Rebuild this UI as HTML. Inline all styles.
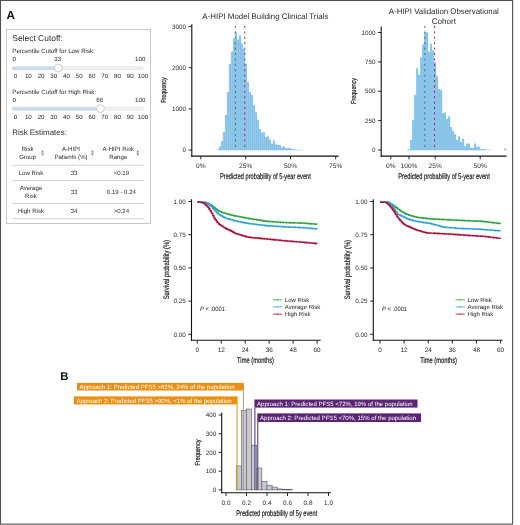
<!DOCTYPE html>
<html><head><meta charset="utf-8"><style>
html,body{margin:0;padding:0;background:#fff;}
body{width:520px;height:525px;overflow:hidden;}
svg{display:block;font-family:"Liberation Sans", sans-serif;text-rendering:geometricPrecision;will-change:transform;}
</style></head><body>
<svg width="520" height="525" viewBox="0 0 520 525">
<rect width="520" height="525" fill="#fff"/>
<rect x="0.5" y="0.5" width="512.1" height="523.6" fill="none" stroke="#505050" stroke-width="1.1"/>
<text x="6.50" y="18.70" font-size="11.7" text-anchor="start" fill="#111" font-weight="bold"  style="">A</text>
<rect x="6.5" y="29.5" width="144" height="194" fill="#fff" stroke="#c8c8c8" stroke-width="1"/>
<text x="12.30" y="40.70" font-size="8.45" text-anchor="start" fill="#2a2a2a" font-weight="normal"  style="">Select Cutoff:</text>
<text x="12.30" y="52.80" font-size="6.15" text-anchor="start" fill="#2a2a2a" font-weight="normal"  style="">Percentile Cutoff for Low Risk:</text>
<text x="12.60" y="61.00" font-size="6.2" text-anchor="start" fill="#2a2a2a" font-weight="normal"  style="">0</text>
<text x="57.64" y="61.00" font-size="6.2" text-anchor="middle" fill="#2a2a2a" font-weight="normal"  style="">33</text>
<text x="145.40" y="61.00" font-size="6.2" text-anchor="end" fill="#2a2a2a" font-weight="normal"  style="">100</text>
<rect x="12" y="66.50" width="131.5" height="3.4" rx="1.7" fill="#f0f0f0" stroke="#e4e4e4" stroke-width="0.5"/>
<rect x="12" y="66.50" width="45.64" height="3.4" rx="1.7" fill="#c9dbec"/>
<circle cx="58.44" cy="68.00" r="3.9" fill="#fff" stroke="#bdbdbd" stroke-width="0.75"/>
<text x="15.60" y="78.30" font-size="6.2" text-anchor="middle" fill="#2a2a2a" font-weight="normal"  style="">0</text>
<text x="28.34" y="78.30" font-size="6.2" text-anchor="middle" fill="#2a2a2a" font-weight="normal"  style="">10</text>
<text x="41.08" y="78.30" font-size="6.2" text-anchor="middle" fill="#2a2a2a" font-weight="normal"  style="">20</text>
<text x="53.82" y="78.30" font-size="6.2" text-anchor="middle" fill="#2a2a2a" font-weight="normal"  style="">30</text>
<text x="66.56" y="78.30" font-size="6.2" text-anchor="middle" fill="#2a2a2a" font-weight="normal"  style="">40</text>
<text x="79.30" y="78.30" font-size="6.2" text-anchor="middle" fill="#2a2a2a" font-weight="normal"  style="">50</text>
<text x="92.04" y="78.30" font-size="6.2" text-anchor="middle" fill="#2a2a2a" font-weight="normal"  style="">60</text>
<text x="104.78" y="78.30" font-size="6.2" text-anchor="middle" fill="#2a2a2a" font-weight="normal"  style="">70</text>
<text x="117.52" y="78.30" font-size="6.2" text-anchor="middle" fill="#2a2a2a" font-weight="normal"  style="">80</text>
<text x="130.26" y="78.30" font-size="6.2" text-anchor="middle" fill="#2a2a2a" font-weight="normal"  style="">90</text>
<text x="143.00" y="78.30" font-size="6.2" text-anchor="middle" fill="#2a2a2a" font-weight="normal"  style="">100</text>
<text x="12.30" y="93.80" font-size="6.15" text-anchor="start" fill="#2a2a2a" font-weight="normal"  style="">Percentile Cutoff for High Risk:</text>
<text x="12.60" y="101.60" font-size="6.2" text-anchor="start" fill="#2a2a2a" font-weight="normal"  style="">0</text>
<text x="99.68" y="101.60" font-size="6.2" text-anchor="middle" fill="#2a2a2a" font-weight="normal"  style="">66</text>
<text x="145.40" y="101.60" font-size="6.2" text-anchor="end" fill="#2a2a2a" font-weight="normal"  style="">100</text>
<rect x="12" y="107.10" width="131.5" height="3.4" rx="1.7" fill="#f0f0f0" stroke="#e4e4e4" stroke-width="0.5"/>
<rect x="12" y="107.10" width="87.68" height="3.4" rx="1.7" fill="#c9dbec"/>
<circle cx="100.48" cy="108.60" r="3.9" fill="#fff" stroke="#bdbdbd" stroke-width="0.75"/>
<text x="15.60" y="118.90" font-size="6.2" text-anchor="middle" fill="#2a2a2a" font-weight="normal"  style="">0</text>
<text x="28.34" y="118.90" font-size="6.2" text-anchor="middle" fill="#2a2a2a" font-weight="normal"  style="">10</text>
<text x="41.08" y="118.90" font-size="6.2" text-anchor="middle" fill="#2a2a2a" font-weight="normal"  style="">20</text>
<text x="53.82" y="118.90" font-size="6.2" text-anchor="middle" fill="#2a2a2a" font-weight="normal"  style="">30</text>
<text x="66.56" y="118.90" font-size="6.2" text-anchor="middle" fill="#2a2a2a" font-weight="normal"  style="">40</text>
<text x="79.30" y="118.90" font-size="6.2" text-anchor="middle" fill="#2a2a2a" font-weight="normal"  style="">50</text>
<text x="92.04" y="118.90" font-size="6.2" text-anchor="middle" fill="#2a2a2a" font-weight="normal"  style="">60</text>
<text x="104.78" y="118.90" font-size="6.2" text-anchor="middle" fill="#2a2a2a" font-weight="normal"  style="">70</text>
<text x="117.52" y="118.90" font-size="6.2" text-anchor="middle" fill="#2a2a2a" font-weight="normal"  style="">80</text>
<text x="130.26" y="118.90" font-size="6.2" text-anchor="middle" fill="#2a2a2a" font-weight="normal"  style="">90</text>
<text x="143.00" y="118.90" font-size="6.2" text-anchor="middle" fill="#2a2a2a" font-weight="normal"  style="">100</text>
<text x="12.20" y="135.20" font-size="7.95" text-anchor="start" fill="#2a2a2a" font-weight="normal"  style="">Risk Estimates:</text>
<text x="27.60" y="150.60" font-size="6.1" text-anchor="middle" fill="#2a2a2a" font-weight="normal"  style="">Risk</text>
<text x="27.60" y="159.20" font-size="6.1" text-anchor="middle" fill="#2a2a2a" font-weight="normal"  style="">Group</text>
<text x="71.00" y="150.60" font-size="6.1" text-anchor="middle" fill="#2a2a2a" font-weight="normal"  style="">A-HIPI</text>
<text x="71.00" y="159.20" font-size="6.1" text-anchor="middle" fill="#2a2a2a" font-weight="normal"  style="">Patients (%)</text>
<text x="118.30" y="150.60" font-size="6.1" text-anchor="middle" fill="#2a2a2a" font-weight="normal"  style="">A-HIPI Risk</text>
<text x="118.30" y="159.20" font-size="6.1" text-anchor="middle" fill="#2a2a2a" font-weight="normal"  style="">Range</text>
<path d="M41.20,152.50 L42.60,149.90 L44.00,152.50 Z M41.20,153.50 L42.60,156.10 L44.00,153.50 Z" fill="#8a8a8a"/>
<path d="M91.00,152.50 L92.40,149.90 L93.80,152.50 Z M91.00,153.50 L92.40,156.10 L93.80,153.50 Z" fill="#8a8a8a"/>
<path d="M136.30,152.50 L137.70,149.90 L139.10,152.50 Z M136.30,153.50 L137.70,156.10 L139.10,153.50 Z" fill="#8a8a8a"/>
<line x1="11.90" y1="165.30" x2="144.00" y2="165.30" stroke="#cfcfcf" stroke-width="0.9" />
<line x1="11.90" y1="180.60" x2="144.00" y2="180.60" stroke="#cfcfcf" stroke-width="0.9" />
<line x1="11.90" y1="203.40" x2="144.00" y2="203.40" stroke="#cfcfcf" stroke-width="0.9" />
<line x1="11.90" y1="218.70" x2="144.00" y2="218.70" stroke="#cfcfcf" stroke-width="0.9" />
<text x="31.00" y="175.00" font-size="6.1" text-anchor="middle" fill="#2a2a2a" font-weight="normal"  style="">Low Risk</text>
<text x="74.10" y="175.00" font-size="6.1" text-anchor="middle" fill="#2a2a2a" font-weight="normal"  style="">33</text>
<text x="121.40" y="175.00" font-size="6.1" text-anchor="middle" fill="#2a2a2a" font-weight="normal"  style="">&lt;0.19</text>
<text x="31.00" y="190.20" font-size="6.1" text-anchor="middle" fill="#2a2a2a" font-weight="normal"  style="">Average</text>
<text x="31.00" y="197.80" font-size="6.1" text-anchor="middle" fill="#2a2a2a" font-weight="normal"  style="">Risk</text>
<text x="74.10" y="194.00" font-size="6.1" text-anchor="middle" fill="#2a2a2a" font-weight="normal"  style="">33</text>
<text x="121.40" y="194.00" font-size="6.1" text-anchor="middle" fill="#2a2a2a" font-weight="normal"  style="">0.19 - 0.24</text>
<text x="31.00" y="212.90" font-size="6.1" text-anchor="middle" fill="#2a2a2a" font-weight="normal"  style="">High Risk</text>
<text x="74.10" y="212.90" font-size="6.1" text-anchor="middle" fill="#2a2a2a" font-weight="normal"  style="">34</text>
<text x="121.40" y="212.90" font-size="6.1" text-anchor="middle" fill="#2a2a2a" font-weight="normal"  style="">&gt;0.24</text>
<path d="M216.80,150.3 V149.30 H218.80 V150.3 Z M218.80,150.3 V146.50 H220.80 V150.3 Z M220.80,150.3 V141.00 H222.80 V150.3 Z M222.80,150.3 V132.00 H224.80 V150.3 Z M224.80,150.3 V115.00 H226.80 V150.3 Z M226.80,150.3 V92.00 H228.80 V150.3 Z M228.80,150.3 V64.00 H230.80 V150.3 Z M230.80,150.3 V51.60 H232.80 V150.3 Z M232.80,150.3 V38.60 H234.80 V150.3 Z M234.80,150.3 V31.80 H236.80 V150.3 Z M236.80,150.3 V39.60 H238.80 V150.3 Z M238.80,150.3 V35.50 H240.80 V150.3 Z M240.80,150.3 V43.60 H242.80 V150.3 Z M242.80,150.3 V49.10 H244.80 V150.3 Z M244.80,150.3 V63.40 H246.80 V150.3 Z M246.80,150.3 V82.00 H248.80 V150.3 Z M248.80,150.3 V91.70 H250.80 V150.3 Z M250.80,150.3 V95.00 H252.80 V150.3 Z M252.80,150.3 V105.00 H254.80 V150.3 Z M254.80,150.3 V111.70 H256.80 V150.3 Z M256.80,150.3 V119.70 H258.80 V150.3 Z M258.80,150.3 V129.00 H260.80 V150.3 Z M260.80,150.3 V132.30 H262.80 V150.3 Z M262.80,150.3 V132.30 H264.80 V150.3 Z M264.80,150.3 V137.00 H266.80 V150.3 Z M266.80,150.3 V136.30 H268.80 V150.3 Z M268.80,150.3 V139.70 H270.80 V150.3 Z M270.80,150.3 V143.80 H272.80 V150.3 Z M272.80,150.3 V140.20 H274.80 V150.3 Z M274.80,150.3 V144.30 H276.80 V150.3 Z M276.80,150.3 V144.80 H278.80 V150.3 Z M278.80,150.3 V144.80 H280.80 V150.3 Z M280.80,150.3 V147.20 H282.80 V150.3 Z M282.80,150.3 V146.25 H284.80 V150.3 Z M284.80,150.3 V148.20 H286.80 V150.3 Z M286.80,150.3 V148.20 H288.80 V150.3 Z M288.80,150.3 V147.70 H290.80 V150.3 Z M290.80,150.3 V149.10 H292.80 V150.3 Z M292.80,150.3 V149.10 H294.80 V150.3 Z M294.80,150.3 V149.50 H296.80 V150.3 Z M296.80,150.3 V149.80 H298.80 V150.3 Z M298.80,150.3 V149.80 H300.80 V150.3 Z M300.80,150.3 V149.80 H302.80 V150.3 Z" fill="#8ecbef" />
<path d="M220.55,150.3 V147.10 M222.55,150.3 V141.60 M224.55,150.3 V132.60 M226.55,150.3 V115.60 M228.55,150.3 V92.60 M230.55,150.3 V64.60 M232.55,150.3 V52.20 M234.55,150.3 V39.20 M236.55,150.3 V32.40 M238.55,150.3 V40.20 M240.55,150.3 V36.10 M242.55,150.3 V44.20 M244.55,150.3 V49.70 M246.55,150.3 V64.00 M248.55,150.3 V82.60 M250.55,150.3 V92.30 M252.55,150.3 V95.60 M254.55,150.3 V105.60 M256.55,150.3 V112.30 M258.55,150.3 V120.30 M260.55,150.3 V129.60 M262.55,150.3 V132.90 M264.55,150.3 V132.90 M266.55,150.3 V137.60 M268.55,150.3 V136.90 M270.55,150.3 V140.30 M272.55,150.3 V144.40 M274.55,150.3 V140.80 M276.55,150.3 V144.90 M278.55,150.3 V145.40 M280.55,150.3 V145.40 M282.55,150.3 V147.80 M284.55,150.3 V146.85 M286.55,150.3 V148.80 M288.55,150.3 V148.80 M290.55,150.3 V148.30" stroke="#7db3d6" stroke-width="0.5" fill="none"/>
<line x1="235.4" y1="26" x2="235.4" y2="150" stroke="#467070" stroke-width="1" stroke-dasharray="2,3.4"/>
<line x1="244.8" y1="26" x2="244.8" y2="150" stroke="#8a2a5c" stroke-width="1" stroke-dasharray="2,3.4"/>
<line x1="191.80" y1="24.30" x2="191.80" y2="156.80" stroke="#111" stroke-width="1.1" />
<line x1="191.30" y1="156.10" x2="338.60" y2="156.10" stroke="#111" stroke-width="1.1" />
<line x1="188.60" y1="150.10" x2="191.80" y2="150.10" stroke="#111" stroke-width="0.9" />
<text x="186.00" y="152.30" font-size="6.3" text-anchor="end" fill="#2a2a2a" font-weight="normal"  style="">0</text>
<line x1="188.60" y1="108.93" x2="191.80" y2="108.93" stroke="#111" stroke-width="0.9" />
<text x="186.00" y="111.13" font-size="6.3" text-anchor="end" fill="#2a2a2a" font-weight="normal"  style="">1000</text>
<line x1="188.60" y1="67.76" x2="191.80" y2="67.76" stroke="#111" stroke-width="0.9" />
<text x="186.00" y="69.96" font-size="6.3" text-anchor="end" fill="#2a2a2a" font-weight="normal"  style="">2000</text>
<line x1="188.60" y1="26.59" x2="191.80" y2="26.59" stroke="#111" stroke-width="0.9" />
<text x="186.00" y="28.79" font-size="6.3" text-anchor="end" fill="#2a2a2a" font-weight="normal"  style="">3000</text>
<line x1="200.80" y1="156.10" x2="200.80" y2="159.40" stroke="#111" stroke-width="0.9" />
<text x="200.80" y="167.50" font-size="6.6" text-anchor="middle" fill="#2a2a2a" font-weight="normal"  style="">0%</text>
<line x1="245.70" y1="156.10" x2="245.70" y2="159.40" stroke="#111" stroke-width="0.9" />
<text x="245.70" y="167.50" font-size="6.6" text-anchor="middle" fill="#2a2a2a" font-weight="normal"  style="">25%</text>
<line x1="290.50" y1="156.10" x2="290.50" y2="159.40" stroke="#111" stroke-width="0.9" />
<text x="290.50" y="167.50" font-size="6.6" text-anchor="middle" fill="#2a2a2a" font-weight="normal"  style="">50%</text>
<line x1="335.70" y1="156.10" x2="335.70" y2="159.40" stroke="#111" stroke-width="0.9" />
<text x="335.70" y="167.50" font-size="6.6" text-anchor="middle" fill="#2a2a2a" font-weight="normal"  style="">75%</text>
<text x="265.40" y="178.70" font-size="8.2" text-anchor="middle" fill="#222" font-weight="normal" textLength="90.8" lengthAdjust="spacingAndGlyphs"  style="stroke:#222;stroke-width:0.22">Predicted probability of 5-year event</text>
<text x="0" y="0" font-size="7.3" text-anchor="middle" fill="#222" textLength="25.5" lengthAdjust="spacingAndGlyphs" transform="translate(163.70,90.00) rotate(-90)" dominant-baseline="central" style="stroke:#222;stroke-width:0.2">Frequency</text>
<text x="265.35" y="18.90" font-size="8.1" text-anchor="middle" fill="#2a2a2a" font-weight="normal" textLength="126" lengthAdjust="spacingAndGlyphs"  style="">A-HIPI Model Building Clinical Trials</text>
<path d="M406.00,150.3 V149.70 H408.00 V150.3 Z M408.00,150.3 V149.00 H410.00 V150.3 Z M410.00,150.3 V140.00 H412.00 V150.3 Z M412.00,150.3 V120.00 H414.00 V150.3 Z M414.00,150.3 V95.00 H416.00 V150.3 Z M416.00,150.3 V68.30 H418.00 V150.3 Z M418.00,150.3 V74.50 H420.00 V150.3 Z M420.00,150.3 V57.20 H422.00 V150.3 Z M422.00,150.3 V44.20 H424.00 V150.3 Z M424.00,150.3 V32.20 H426.00 V150.3 Z M426.00,150.3 V32.20 H428.00 V150.3 Z M428.00,150.3 V51.60 H430.00 V150.3 Z M430.00,150.3 V43.60 H432.00 V150.3 Z M432.00,150.3 V50.40 H434.00 V150.3 Z M434.00,150.3 V62.10 H436.00 V150.3 Z M436.00,150.3 V76.00 H438.00 V150.3 Z M438.00,150.3 V89.00 H440.00 V150.3 Z M440.00,150.3 V89.70 H442.00 V150.3 Z M442.00,150.3 V113.00 H444.00 V150.3 Z M444.00,150.3 V112.30 H446.00 V150.3 Z M446.00,150.3 V119.00 H448.00 V150.3 Z M448.00,150.3 V116.30 H450.00 V150.3 Z M450.00,150.3 V127.00 H452.00 V150.3 Z M452.00,150.3 V131.00 H454.00 V150.3 Z M454.00,150.3 V134.30 H456.00 V150.3 Z M456.00,150.3 V139.90 H458.00 V150.3 Z M458.00,150.3 V136.20 H460.00 V150.3 Z M460.00,150.3 V142.00 H462.00 V150.3 Z M462.00,150.3 V138.80 H464.00 V150.3 Z M464.00,150.3 V146.20 H466.00 V150.3 Z M466.00,150.3 V143.40 H468.00 V150.3 Z M468.00,150.3 V143.40 H470.00 V150.3 Z M470.00,150.3 V147.80 H472.00 V150.3 Z M472.00,150.3 V147.80 H474.00 V150.3 Z M474.00,150.3 V143.40 H476.00 V150.3 Z M476.00,150.3 V146.70 H478.00 V150.3 Z M478.00,150.3 V146.70 H480.00 V150.3 Z M480.00,150.3 V149.10 H482.00 V150.3 Z M482.00,150.3 V149.10 H484.00 V150.3 Z M484.00,150.3 V149.10 H486.00 V150.3 Z M486.00,150.3 V149.80 H488.00 V150.3 Z M488.00,150.3 V149.80 H490.00 V150.3 Z M490.00,150.3 V149.80 H492.00 V150.3 Z" fill="#8ecbef" />
<path d="M411.75,150.3 V140.60 M413.75,150.3 V120.60 M415.75,150.3 V95.60 M417.75,150.3 V68.90 M419.75,150.3 V75.10 M421.75,150.3 V57.80 M423.75,150.3 V44.80 M425.75,150.3 V32.80 M427.75,150.3 V32.80 M429.75,150.3 V52.20 M431.75,150.3 V44.20 M433.75,150.3 V51.00 M435.75,150.3 V62.70 M437.75,150.3 V76.60 M439.75,150.3 V89.60 M441.75,150.3 V90.30 M443.75,150.3 V113.60 M445.75,150.3 V112.90 M447.75,150.3 V119.60 M449.75,150.3 V116.90 M451.75,150.3 V127.60 M453.75,150.3 V131.60 M455.75,150.3 V134.90 M457.75,150.3 V140.50 M459.75,150.3 V136.80 M461.75,150.3 V142.60 M463.75,150.3 V139.40 M465.75,150.3 V146.80 M467.75,150.3 V144.00 M469.75,150.3 V144.00 M471.75,150.3 V148.40 M473.75,150.3 V148.40 M475.75,150.3 V144.00 M477.75,150.3 V147.30 M479.75,150.3 V147.30" stroke="#7db3d6" stroke-width="0.5" fill="none"/>
<rect x="504.2" y="148.6" width="2.4" height="1.7" fill="#9ab8cc"/>
<line x1="424.8" y1="26" x2="424.8" y2="150" stroke="#467070" stroke-width="1" stroke-dasharray="2,3.4"/>
<line x1="434.6" y1="26" x2="434.6" y2="150" stroke="#8a2a5c" stroke-width="1" stroke-dasharray="2,3.4"/>
<line x1="381.20" y1="26.50" x2="381.20" y2="156.70" stroke="#111" stroke-width="1.1" />
<line x1="380.70" y1="156.10" x2="506.50" y2="156.10" stroke="#111" stroke-width="1.1" />
<line x1="378.00" y1="150.00" x2="381.20" y2="150.00" stroke="#111" stroke-width="0.9" />
<text x="375.60" y="152.20" font-size="6.3" text-anchor="end" fill="#2a2a2a" font-weight="normal"  style="">0</text>
<line x1="378.00" y1="120.62" x2="381.20" y2="120.62" stroke="#111" stroke-width="0.9" />
<text x="375.60" y="122.83" font-size="6.3" text-anchor="end" fill="#2a2a2a" font-weight="normal"  style="">250</text>
<line x1="378.00" y1="91.25" x2="381.20" y2="91.25" stroke="#111" stroke-width="0.9" />
<text x="375.60" y="93.45" font-size="6.3" text-anchor="end" fill="#2a2a2a" font-weight="normal"  style="">500</text>
<line x1="378.00" y1="61.88" x2="381.20" y2="61.88" stroke="#111" stroke-width="0.9" />
<text x="375.60" y="64.08" font-size="6.3" text-anchor="end" fill="#2a2a2a" font-weight="normal"  style="">750</text>
<line x1="378.00" y1="32.50" x2="381.20" y2="32.50" stroke="#111" stroke-width="0.9" />
<text x="375.60" y="34.70" font-size="6.3" text-anchor="end" fill="#2a2a2a" font-weight="normal"  style="">1000</text>
<line x1="390.80" y1="156.10" x2="390.80" y2="159.40" stroke="#111" stroke-width="0.9" />
<text x="390.80" y="167.50" font-size="6.6" text-anchor="middle" fill="#2a2a2a" font-weight="normal"  style="">0%</text>
<line x1="409.00" y1="156.10" x2="409.00" y2="159.40" stroke="#111" stroke-width="0.9" />
<text x="409.00" y="167.50" font-size="6.6" text-anchor="middle" fill="#2a2a2a" font-weight="normal"  style="">100%</text>
<line x1="435.20" y1="156.10" x2="435.20" y2="159.40" stroke="#111" stroke-width="0.9" />
<text x="435.20" y="167.50" font-size="6.6" text-anchor="middle" fill="#2a2a2a" font-weight="normal"  style="">25%</text>
<line x1="480.20" y1="156.10" x2="480.20" y2="159.40" stroke="#111" stroke-width="0.9" />
<text x="480.20" y="167.50" font-size="6.6" text-anchor="middle" fill="#2a2a2a" font-weight="normal"  style="">50%</text>
<text x="444.10" y="178.80" font-size="8.2" text-anchor="middle" fill="#222" font-weight="normal" textLength="91.6" lengthAdjust="spacingAndGlyphs"  style="stroke:#222;stroke-width:0.22">Predicted probability of 5-year event</text>
<text x="0" y="0" font-size="7.3" text-anchor="middle" fill="#222" textLength="25.9" lengthAdjust="spacingAndGlyphs" transform="translate(353.70,91.00) rotate(-90)" dominant-baseline="central" style="stroke:#222;stroke-width:0.2">Frequency</text>
<text x="443.85" y="13.80" font-size="8.1" text-anchor="middle" fill="#2a2a2a" font-weight="normal" textLength="110" lengthAdjust="spacingAndGlyphs"  style="">A-HIPI Validation Observational</text>
<text x="443.85" y="23.50" font-size="8.1" text-anchor="middle" fill="#2a2a2a" font-weight="normal" textLength="24.4" lengthAdjust="spacingAndGlyphs"  style="">Cohort</text>
<line x1="191.50" y1="199.20" x2="191.50" y2="340.80" stroke="#111" stroke-width="1.1" />
<line x1="191.00" y1="340.30" x2="320.60" y2="340.30" stroke="#111" stroke-width="1.1" />
<line x1="188.30" y1="201.50" x2="191.50" y2="201.50" stroke="#111" stroke-width="0.9" />
<text x="185.70" y="203.70" font-size="6.3" text-anchor="end" fill="#2a2a2a" font-weight="normal"  style="">1.00</text>
<line x1="188.30" y1="234.70" x2="191.50" y2="234.70" stroke="#111" stroke-width="0.9" />
<text x="185.70" y="236.90" font-size="6.3" text-anchor="end" fill="#2a2a2a" font-weight="normal"  style="">0.75</text>
<line x1="188.30" y1="267.90" x2="191.50" y2="267.90" stroke="#111" stroke-width="0.9" />
<text x="185.70" y="270.10" font-size="6.3" text-anchor="end" fill="#2a2a2a" font-weight="normal"  style="">0.50</text>
<line x1="188.30" y1="301.10" x2="191.50" y2="301.10" stroke="#111" stroke-width="0.9" />
<text x="185.70" y="303.30" font-size="6.3" text-anchor="end" fill="#2a2a2a" font-weight="normal"  style="">0.25</text>
<line x1="188.30" y1="334.30" x2="191.50" y2="334.30" stroke="#111" stroke-width="0.9" />
<text x="185.70" y="336.50" font-size="6.3" text-anchor="end" fill="#2a2a2a" font-weight="normal"  style="">0.00</text>
<line x1="197.30" y1="340.30" x2="197.30" y2="343.60" stroke="#111" stroke-width="0.9" />
<text x="197.30" y="351.60" font-size="6.4" text-anchor="middle" fill="#2a2a2a" font-weight="normal"  style="">0</text>
<line x1="221.26" y1="340.30" x2="221.26" y2="343.60" stroke="#111" stroke-width="0.9" />
<text x="221.26" y="351.60" font-size="6.4" text-anchor="middle" fill="#2a2a2a" font-weight="normal"  style="">12</text>
<line x1="245.22" y1="340.30" x2="245.22" y2="343.60" stroke="#111" stroke-width="0.9" />
<text x="245.22" y="351.60" font-size="6.4" text-anchor="middle" fill="#2a2a2a" font-weight="normal"  style="">24</text>
<line x1="269.18" y1="340.30" x2="269.18" y2="343.60" stroke="#111" stroke-width="0.9" />
<text x="269.18" y="351.60" font-size="6.4" text-anchor="middle" fill="#2a2a2a" font-weight="normal"  style="">36</text>
<line x1="293.14" y1="340.30" x2="293.14" y2="343.60" stroke="#111" stroke-width="0.9" />
<text x="293.14" y="351.60" font-size="6.4" text-anchor="middle" fill="#2a2a2a" font-weight="normal"  style="">48</text>
<line x1="317.10" y1="340.30" x2="317.10" y2="343.60" stroke="#111" stroke-width="0.9" />
<text x="317.10" y="351.60" font-size="6.4" text-anchor="middle" fill="#2a2a2a" font-weight="normal"  style="">60</text>
<text x="255.50" y="362.90" font-size="8.2" text-anchor="middle" fill="#222" font-weight="normal" textLength="36.9" lengthAdjust="spacingAndGlyphs"  style="stroke:#222;stroke-width:0.22">Time (months)</text>
<text x="0" y="0" font-size="7.9" text-anchor="middle" fill="#222" textLength="59.3" lengthAdjust="spacingAndGlyphs" transform="translate(166.50,269.60) rotate(-90)" dominant-baseline="central" style="stroke:#222;stroke-width:0.2">Survival probability (%)</text>
<path d="M197.30,201.70H198.11 V201.74H199.01 V201.80H200.24 V201.86H201.06 V201.91H201.92 V201.96H202.85 V202.03H203.41 V202.15H204.27 V202.33H205.24 V202.54H206.36 V202.77H206.84 V202.97H207.51 V203.29H207.99 V203.53H209.12 V204.08H210.15 V204.58H210.58 V204.85H211.87 V205.90H213.14 V206.93H214.13 V207.74H215.08 V208.43H215.62 V208.81H216.03 V209.10H216.91 V209.73H217.36 V210.05H217.94 V210.45H218.55 V210.77H218.98 V210.98H219.80 V211.38H220.59 V211.76H221.75 V212.33H222.62 V212.60H223.60 V212.88H224.45 V213.12H225.44 V213.40H226.25 V213.64H226.90 V213.84H228.20 V214.23H229.50 V214.63H230.65 V214.96H231.69 V215.18H232.37 V215.33H232.98 V215.46H233.64 V215.60H234.10 V215.71H235.19 V215.94H235.95 V216.08H237.12 V216.30H237.86 V216.44H239.13 V216.68H240.29 V216.89H240.69 V216.97H241.28 V217.08H242.50 V217.31H243.32 V217.46H244.60 V217.71H245.36 V217.85H245.83 V217.94H246.79 V218.12H247.89 V218.32H248.54 V218.44H249.01 V218.51H249.71 V218.62H250.98 V218.83H252.06 V219.00H252.57 V219.08H253.19 V219.18H253.68 V219.25H254.14 V219.32H255.25 V219.50H255.81 V219.59H256.72 V219.73H257.52 V219.86H258.09 V219.95H259.15 V220.12H259.67 V220.20H260.65 V220.36H261.15 V220.44H261.93 V220.56H262.52 V220.65H263.17 V220.76H264.44 V220.96H265.56 V221.14H266.24 V221.24H267.43 V221.36H268.02 V221.40H268.78 V221.46H269.95 V221.54H270.92 V221.61H271.41 V221.64H272.70 V221.74H273.30 V221.78H273.93 V221.82H275.02 V221.90H275.72 V221.95H276.39 V222.00H276.85 V222.03H277.33 V222.07H278.26 V222.13H278.88 V222.18H279.82 V222.24H280.55 V222.30H281.36 V222.35H282.62 V222.44H283.46 V222.50H284.38 V222.57H285.56 V222.62H286.12 V222.64H286.66 V222.65H287.88 V222.68H289.01 V222.72H289.64 V222.73H290.21 V222.75H291.27 V222.78H292.52 V222.81H293.10 V222.83H294.35 V222.86H295.55 V222.90H296.49 V222.92H297.27 V222.94H297.76 V222.96H298.20 V222.97H299.46 V223.00H300.08 V223.02H301.11 V223.05H301.74 V223.07H302.89 V223.10H303.82 V223.17H304.49 V223.22H305.04 V223.27H306.09 V223.36H306.55 V223.40H307.16 V223.45H308.06 V223.52H309.23 V223.62H310.18 V223.70H310.84 V223.76H312.06 V223.86H312.64 V223.91H313.06 V223.94H313.70 V224.00H314.50 V224.07H314.96 V224.10H315.52 V224.15H316.25 V224.21H317.10 V224.28" fill="none" stroke="#35a043" stroke-width="1.35"/>
<path d="M205.30,201.40 V203.70 M208.34,202.55 V204.85 M210.29,203.50 V205.80 M212.04,204.89 V207.19 M215.13,207.31 V209.61 M216.60,208.35 V210.65 M218.89,209.78 V212.08 M221.38,210.99 V213.29 M223.98,211.84 V214.14 M225.52,212.27 V214.57 M228.17,213.07 V215.37 M230.52,213.78 V216.08 M233.68,214.46 V216.76 M234.94,214.74 V217.04 M238.34,215.38 V217.68 M239.94,215.68 V217.98 M243.01,216.26 V218.56 M245.38,216.70 V219.00 M248.50,217.28 V219.58 M250.12,217.54 V219.84 M252.06,217.85 V220.15 M253.46,218.07 V220.37 M256.45,218.54 V220.84 M258.88,218.93 V221.23 M260.55,219.19 V221.49 M262.19,219.45 V221.75 M263.58,219.67 V221.97 M265.24,219.93 V222.23 M267.73,220.23 V222.53 M269.93,220.39 V222.69 M272.75,220.59 V222.89 M274.13,220.69 V222.99 M277.26,220.91 V223.21 M280.72,221.16 V223.46 M283.62,221.37 V223.67 M286.53,221.50 V223.80 M289.68,221.58 V223.88 M291.10,221.62 V223.92 M293.36,221.69 V223.99 M294.74,221.72 V224.02 M297.74,221.81 V224.11 M300.18,221.87 V224.17 M301.62,221.91 V224.21 M303.85,222.02 V224.32 M306.83,222.27 V224.57 M309.30,222.48 V224.78 M310.78,222.60 V224.90 M314.14,222.88 V225.18 M315.47,223.00 V225.30" stroke="#35a043" stroke-width="0.6" fill="none"/>
<path d="M197.30,201.70H198.13 V201.80H199.12 V201.92H200.12 V202.04H200.65 V202.10H201.06 V202.15H201.79 V202.24H202.44 V202.31H203.57 V202.45H204.59 V202.57H205.53 V202.68H206.44 V202.79H207.43 V203.52H207.96 V203.92H208.76 V204.54H209.30 V204.96H210.52 V205.93H210.97 V206.43H212.11 V207.69H212.58 V208.20H213.59 V209.33H214.30 V210.10H215.06 V210.88H216.22 V212.07H216.64 V212.50H217.09 V212.97H218.31 V214.09H219.17 V214.59H219.65 V214.88H220.94 V215.64H222.19 V216.35H222.70 V216.61H223.48 V217.01H224.00 V217.28H224.68 V217.63H225.64 V218.12H226.19 V218.31H227.21 V218.60H227.66 V218.73H228.21 V218.88H229.35 V219.20H230.11 V219.42H230.89 V219.65H231.82 V219.93H232.65 V220.19H233.40 V220.41H233.82 V220.54H234.88 V220.86H236.15 V221.12H237.43 V221.37H238.42 V221.57H239.15 V221.71H239.87 V221.85H240.89 V222.05H241.90 V222.25H242.40 V222.35H243.01 V222.47H243.74 V222.61H244.60 V222.78H245.73 V223.00H246.58 V223.16H247.01 V223.25H248.15 V223.47H248.93 V223.58H249.80 V223.68H250.40 V223.75H251.18 V223.85H251.93 V223.94H253.03 V224.07H253.52 V224.13H254.42 V224.24H254.98 V224.30H256.00 V224.43H256.44 V224.48H257.08 V224.56H257.79 V224.64H258.77 V224.76H259.21 V224.81H260.03 V224.91H260.62 V224.98H261.27 V225.06H262.10 V225.16H263.36 V225.31H264.19 V225.41H265.45 V225.56H266.00 V225.63H267.24 V225.74H267.96 V225.78H268.53 V225.82H269.61 V225.88H270.83 V225.96H271.24 V225.98H271.88 V226.02H272.97 V226.09H273.68 V226.13H274.30 V226.17H274.70 V226.19H275.14 V226.22H276.10 V226.27H277.38 V226.35H278.68 V226.43H279.53 V226.48H279.96 V226.51H280.65 V226.55H281.75 V226.62H282.90 V226.69H283.88 V226.74H284.48 V226.78H285.36 V226.83H286.19 V226.87H287.15 V226.92H287.79 V226.95H289.04 V227.01H290.25 V227.07H290.79 V227.10H291.45 V227.13H292.64 V227.19H293.29 V227.22H294.54 V227.28H295.40 V227.32H296.43 V227.38H297.46 V227.43H298.06 V227.46H298.71 V227.49H299.34 V227.52H300.36 V227.57H301.38 V227.62H301.90 V227.65H303.10 V227.71H303.88 V227.78H304.49 V227.84H305.29 V227.91H306.57 V228.02H307.47 V228.11H308.43 V228.19H309.66 V228.31H310.93 V228.42H312.01 V228.52H312.79 V228.59H313.72 V228.67H314.93 V228.78H316.04 V228.89H316.96 V228.97H317.10 V228.98" fill="none" stroke="#2ea2d8" stroke-width="1.35"/>
<path d="M205.30,201.51 V203.81 M208.37,203.09 V205.39 M209.79,204.18 V206.48 M213.12,207.66 V209.96 M216.00,210.70 V213.00 M217.79,212.54 V214.84 M219.98,213.91 V216.21 M221.25,214.67 V216.97 M222.79,215.51 V217.81 M225.49,216.89 V219.19 M228.47,217.80 V220.10 M230.10,218.27 V220.57 M232.90,219.11 V221.41 M234.97,219.74 V222.04 M237.43,220.23 V222.53 M240.55,220.83 V223.13 M242.29,221.18 V223.48 M243.89,221.49 V223.79 M246.07,221.91 V224.21 M249.52,222.50 V224.80 M251.65,222.75 V225.05 M254.79,223.13 V225.43 M256.39,223.32 V225.62 M259.32,223.68 V225.98 M262.50,224.06 V226.36 M264.54,224.30 V226.60 M266.21,224.50 V226.80 M267.64,224.61 V226.91 M269.18,224.71 V227.01 M271.05,224.82 V227.12 M273.62,224.97 V227.27 M276.83,225.17 V227.47 M278.62,225.28 V227.58 M281.96,225.48 V227.78 M283.55,225.57 V227.87 M285.90,225.70 V228.00 M288.81,225.85 V228.15 M292.08,226.01 V228.31 M295.38,226.17 V228.47 M298.78,226.34 V228.64 M300.17,226.41 V228.71 M303.36,226.58 V228.88 M304.56,226.69 V228.99 M306.82,226.90 V229.20 M308.85,227.08 V229.38 M311.05,227.28 V229.58 M312.45,227.41 V229.71 M314.59,227.60 V229.90" stroke="#2ea2d8" stroke-width="0.6" fill="none"/>
<path d="M197.30,202.00H197.93 V202.09H198.95 V202.24H199.97 V202.39H201.13 V202.57H201.70 V202.65H202.30 V202.74H202.84 V202.90H203.44 V203.33H204.50 V204.08H205.02 V204.45H205.90 V205.07H206.49 V205.49H207.15 V206.39H207.94 V207.46H209.10 V209.03H210.04 V210.32H210.46 V210.91H211.10 V212.23H211.64 V213.31H212.82 V215.71H213.95 V217.99H215.07 V219.65H216.22 V221.16H217.29 V222.56H218.54 V223.88H219.66 V224.65H220.29 V225.08H221.45 V225.89H222.29 V226.43H223.37 V227.07H224.28 V227.60H225.07 V228.07H225.79 V228.50H226.58 V228.87H227.26 V229.20H227.77 V229.44H228.91 V229.99H230.02 V230.52H231.31 V231.20H232.33 V231.76H233.23 V232.25H234.31 V232.84H234.83 V233.13H235.84 V233.60H236.64 V233.83H237.19 V233.99H237.78 V234.16H238.65 V234.41H239.27 V234.59H240.09 V234.83H241.03 V235.10H241.79 V235.32H242.31 V235.47H243.15 V235.71H243.76 V235.89H244.37 V236.06H244.95 V236.23H245.68 V236.44H246.14 V236.58H247.13 V236.86H248.39 V237.21H249.14 V237.28H250.19 V237.39H251.43 V237.51H251.86 V237.55H252.39 V237.60H253.52 V237.71H254.67 V237.83H255.65 V237.92H256.19 V237.98H256.96 V238.05H258.14 V238.17H259.34 V238.29H260.46 V238.40H261.05 V238.45H262.22 V238.57H262.95 V238.64H264.00 V238.74H264.52 V238.80H265.80 V238.92H266.74 V239.01H267.79 V239.12H268.38 V239.18H269.34 V239.27H270.26 V239.36H271.19 V239.45H271.91 V239.53H272.97 V239.63H273.68 V239.70H274.34 V239.77H274.89 V239.82H275.91 V239.92H276.41 V239.97H277.01 V240.03H277.47 V240.08H278.45 V240.17H279.35 V240.26H280.24 V240.35H280.67 V240.39H281.47 V240.47H282.18 V240.54H282.66 V240.59H283.07 V240.63H284.36 V240.76H284.87 V240.81H285.54 V240.86H286.19 V240.91H287.12 V240.99H287.59 V241.03H288.42 V241.10H289.15 V241.16H290.30 V241.25H290.70 V241.29H291.40 V241.34H292.25 V241.41H293.52 V241.52H294.39 V241.59H295.22 V241.66H296.22 V241.74H296.88 V241.80H297.31 V241.83H298.16 V241.90H299.38 V242.00H300.45 V242.09H301.08 V242.14H302.10 V242.23H303.26 V242.32H303.89 V242.38H304.82 V242.47H305.54 V242.53H306.16 V242.59H306.82 V242.65H307.40 V242.70H308.12 V242.77H308.55 V242.80H309.31 V242.87H309.79 V242.92H310.87 V243.02H311.81 V243.10H312.22 V243.14H313.31 V243.24H313.88 V243.29H314.72 V243.37H315.62 V243.45H316.32 V243.51H316.98 V243.57H317.10 V243.58" fill="none" stroke="#a8123a" stroke-width="1.35"/>
<path d="M205.30,203.50 V205.80 M206.83,204.80 V207.10 M208.84,207.53 V209.83 M210.41,209.68 V211.98 M212.18,213.25 V215.55 M214.97,218.36 V220.66 M216.53,220.41 V222.71 M218.53,222.72 V225.02 M220.20,223.87 V226.17 M223.64,226.07 V228.37 M225.97,227.43 V229.73 M227.88,228.34 V230.64 M230.02,229.37 V231.67 M233.12,231.05 V233.35 M235.17,232.17 V234.47 M238.25,233.15 V235.45 M240.33,233.75 V236.05 M242.13,234.27 V236.57 M245.40,235.21 V237.51 M246.70,235.59 V237.89 M250.00,236.22 V238.52 M251.96,236.41 V238.71 M254.86,236.70 V239.00 M257.11,236.92 V239.22 M258.49,237.05 V239.35 M259.83,237.18 V239.48 M261.26,237.32 V239.62 M262.72,237.47 V239.77 M264.35,237.63 V239.93 M266.17,237.81 V240.11 M267.87,237.98 V240.28 M270.68,238.25 V240.55 M272.95,238.48 V240.78 M274.56,238.64 V240.94 M275.83,238.76 V241.06 M278.55,239.03 V241.33 M281.02,239.28 V241.58 M284.35,239.61 V241.91 M285.89,239.74 V242.04 M287.57,239.88 V242.18 M290.92,240.15 V242.45 M292.75,240.31 V242.61 M296.08,240.58 V242.88 M299.58,240.87 V243.17 M302.00,241.07 V243.37 M304.85,241.32 V243.62 M306.42,241.46 V243.76 M309.54,241.74 V244.04 M312.16,241.98 V244.28 M314.55,242.20 V244.50 M315.80,242.31 V244.61" stroke="#a8123a" stroke-width="0.6" fill="none"/>
<text x="200.00" y="310.5" font-size="6.3" fill="#222" textLength="25" lengthAdjust="spacingAndGlyphs"><tspan font-style="italic">P</tspan> &lt; .0001</text>
<line x1="272.90" y1="299.80" x2="282.10" y2="299.80" stroke="#35a043" stroke-width="1.1" opacity="0.75"/>
<line x1="277.50" y1="298.60" x2="277.50" y2="301.00" stroke="#35a043" stroke-width="0.6" opacity="0.75"/>
<text x="284.80" y="301.90" font-size="6.0" text-anchor="start" fill="#222" font-weight="normal"  style="">Low Risk</text>
<line x1="272.90" y1="306.95" x2="282.10" y2="306.95" stroke="#2ea2d8" stroke-width="1.1" opacity="0.75"/>
<line x1="277.50" y1="305.75" x2="277.50" y2="308.15" stroke="#2ea2d8" stroke-width="0.6" opacity="0.75"/>
<text x="284.80" y="309.05" font-size="6.0" text-anchor="start" fill="#222" font-weight="normal"  style="">Average Risk</text>
<line x1="272.90" y1="314.10" x2="282.10" y2="314.10" stroke="#a8123a" stroke-width="1.1" opacity="0.75"/>
<line x1="277.50" y1="312.90" x2="277.50" y2="315.30" stroke="#a8123a" stroke-width="0.6" opacity="0.75"/>
<text x="284.80" y="316.20" font-size="6.0" text-anchor="start" fill="#222" font-weight="normal"  style="">High Risk</text>
<line x1="373.30" y1="199.20" x2="373.30" y2="340.80" stroke="#111" stroke-width="1.1" />
<line x1="372.80" y1="340.30" x2="502.50" y2="340.30" stroke="#111" stroke-width="1.1" />
<line x1="370.10" y1="201.50" x2="373.30" y2="201.50" stroke="#111" stroke-width="0.9" />
<text x="367.50" y="203.70" font-size="6.3" text-anchor="end" fill="#2a2a2a" font-weight="normal"  style="">1.00</text>
<line x1="370.10" y1="234.70" x2="373.30" y2="234.70" stroke="#111" stroke-width="0.9" />
<text x="367.50" y="236.90" font-size="6.3" text-anchor="end" fill="#2a2a2a" font-weight="normal"  style="">0.75</text>
<line x1="370.10" y1="267.90" x2="373.30" y2="267.90" stroke="#111" stroke-width="0.9" />
<text x="367.50" y="270.10" font-size="6.3" text-anchor="end" fill="#2a2a2a" font-weight="normal"  style="">0.50</text>
<line x1="370.10" y1="301.10" x2="373.30" y2="301.10" stroke="#111" stroke-width="0.9" />
<text x="367.50" y="303.30" font-size="6.3" text-anchor="end" fill="#2a2a2a" font-weight="normal"  style="">0.25</text>
<line x1="370.10" y1="334.30" x2="373.30" y2="334.30" stroke="#111" stroke-width="0.9" />
<text x="367.50" y="336.50" font-size="6.3" text-anchor="end" fill="#2a2a2a" font-weight="normal"  style="">0.00</text>
<line x1="380.00" y1="340.30" x2="380.00" y2="343.60" stroke="#111" stroke-width="0.9" />
<text x="380.00" y="351.60" font-size="6.4" text-anchor="middle" fill="#2a2a2a" font-weight="normal"  style="">0</text>
<line x1="404.12" y1="340.30" x2="404.12" y2="343.60" stroke="#111" stroke-width="0.9" />
<text x="404.12" y="351.60" font-size="6.4" text-anchor="middle" fill="#2a2a2a" font-weight="normal"  style="">12</text>
<line x1="428.24" y1="340.30" x2="428.24" y2="343.60" stroke="#111" stroke-width="0.9" />
<text x="428.24" y="351.60" font-size="6.4" text-anchor="middle" fill="#2a2a2a" font-weight="normal"  style="">24</text>
<line x1="452.36" y1="340.30" x2="452.36" y2="343.60" stroke="#111" stroke-width="0.9" />
<text x="452.36" y="351.60" font-size="6.4" text-anchor="middle" fill="#2a2a2a" font-weight="normal"  style="">36</text>
<line x1="476.48" y1="340.30" x2="476.48" y2="343.60" stroke="#111" stroke-width="0.9" />
<text x="476.48" y="351.60" font-size="6.4" text-anchor="middle" fill="#2a2a2a" font-weight="normal"  style="">48</text>
<line x1="500.60" y1="340.30" x2="500.60" y2="343.60" stroke="#111" stroke-width="0.9" />
<text x="500.60" y="351.60" font-size="6.4" text-anchor="middle" fill="#2a2a2a" font-weight="normal"  style="">60</text>
<text x="438.60" y="362.90" font-size="8.2" text-anchor="middle" fill="#222" font-weight="normal" textLength="36.9" lengthAdjust="spacingAndGlyphs"  style="stroke:#222;stroke-width:0.22">Time (months)</text>
<text x="0" y="0" font-size="7.9" text-anchor="middle" fill="#222" textLength="59.3" lengthAdjust="spacingAndGlyphs" transform="translate(347.40,269.60) rotate(-90)" dominant-baseline="central" style="stroke:#222;stroke-width:0.2">Survival probability (%)</text>
<path d="M380.00,201.90H380.55 V201.91H381.57 V201.95H382.54 V201.99H383.37 V202.02H383.97 V202.04H385.08 V202.09H386.21 V202.13H387.07 V202.16H387.92 V202.20H388.54 V202.53H388.94 V202.77H389.67 V203.22H390.60 V203.79H391.06 V204.07H392.18 V204.75H392.78 V205.12H393.39 V205.50H393.83 V205.84H395.13 V206.87H396.19 V207.71H397.38 V208.63H398.34 V209.31H398.77 V209.61H399.46 V210.11H400.31 V210.71H400.82 V211.07H402.07 V211.83H402.80 V212.26H403.34 V212.58H404.48 V213.25H404.99 V213.53H406.23 V214.01H407.03 V214.32H407.93 V214.67H408.64 V214.94H409.48 V215.23H410.04 V215.43H410.48 V215.57H411.66 V215.98H412.27 V216.19H413.37 V216.46H413.96 V216.58H415.23 V216.84H416.43 V217.08H417.51 V217.30H418.60 V217.47H419.52 V217.59H420.58 V217.71H421.09 V217.78H421.92 V217.88H423.06 V218.02H423.64 V218.09H424.87 V218.24H426.07 V218.38H426.84 V218.48H427.57 V218.57H428.38 V218.67H429.12 V218.76H430.42 V218.91H431.17 V218.94H431.59 V218.96H432.08 V218.99H433.12 V219.04H434.42 V219.10H435.26 V219.14H436.10 V219.19H437.00 V219.23H438.07 V219.28H438.67 V219.31H439.62 V219.36H440.52 V219.40H441.48 V219.45H442.04 V219.48H442.60 V219.50H443.31 V219.54H444.55 V219.60H445.26 V219.64H446.19 V219.68H446.87 V219.71H447.36 V219.74H447.82 V219.76H448.96 V219.82H450.05 V219.87H450.79 V219.91H451.81 V219.96H452.82 V220.01H454.02 V220.07H455.29 V220.13H456.05 V220.17H457.34 V220.23H458.61 V220.29H459.54 V220.34H460.73 V220.40H461.58 V220.44H462.31 V220.48H462.94 V220.51H464.13 V220.57H464.67 V220.59H465.13 V220.62H466.26 V220.67H467.36 V220.72H468.19 V220.76H469.34 V220.80H469.79 V220.82H470.42 V220.85H471.08 V220.87H471.86 V220.91H472.41 V220.93H472.88 V220.95H473.58 V220.98H474.79 V221.03H476.08 V221.08H477.15 V221.12H477.98 V221.16H478.61 V221.18H479.87 V221.23H480.74 V221.27H481.80 V221.34H482.22 V221.39H482.81 V221.46H483.97 V221.60H485.08 V221.73H486.28 V221.87H487.22 V221.98H488.00 V222.08H488.92 V222.19H490.09 V222.33H490.77 V222.41H491.65 V222.51H492.30 V222.59H493.39 V222.72H493.80 V222.77H494.81 V222.89H496.07 V223.04H496.49 V223.09H497.43 V223.20H498.41 V223.32H499.57 V223.46H500.50 V223.50H500.60 V223.50" fill="none" stroke="#35a043" stroke-width="1.35"/>
<path d="M388.00,201.05 V203.35 M390.59,202.63 V204.93 M392.13,203.58 V205.88 M395.51,206.01 V208.31 M397.72,207.72 V210.02 M399.95,209.30 V211.60 M402.59,210.99 V213.29 M405.48,212.57 V214.87 M408.53,213.75 V216.05 M411.68,214.84 V217.14 M413.60,215.35 V217.65 M416.74,215.99 V218.29 M419.59,216.44 V218.74 M421.86,216.72 V219.02 M423.21,216.89 V219.19 M425.38,217.15 V219.45 M427.38,217.39 V219.69 M429.36,217.63 V219.93 M432.02,217.83 V220.13 M433.68,217.92 V220.22 M435.42,218.00 V220.30 M436.77,218.07 V220.37 M439.73,218.21 V220.51 M442.72,218.36 V220.66 M446.03,218.52 V220.82 M448.39,218.64 V220.94 M450.28,218.73 V221.03 M452.02,218.82 V221.12 M454.95,218.96 V221.26 M456.58,219.04 V221.34 M459.68,219.20 V221.50 M462.62,219.34 V221.64 M464.76,219.45 V221.75 M467.65,219.58 V221.88 M470.03,219.68 V221.98 M471.77,219.75 V222.05 M473.92,219.84 V222.14 M475.61,219.91 V222.21 M477.01,219.97 V222.27 M478.56,220.03 V222.33 M481.14,220.14 V222.44 M482.49,220.27 V222.57 M485.01,220.57 V222.87 M488.06,220.93 V223.23 M491.41,221.33 V223.63 M493.41,221.57 V223.87 M496.65,221.96 V224.26 M498.36,222.17 V224.47" stroke="#35a043" stroke-width="0.6" fill="none"/>
<path d="M380.00,201.90H381.26 V201.95H381.79 V201.98H382.21 V202.00H383.51 V202.07H384.07 V202.10H384.58 V202.12H385.57 V202.18H386.28 V202.21H387.48 V202.27H388.09 V202.36H389.35 V203.24H390.04 V203.72H390.98 V204.85H392.22 V206.56H393.24 V207.97H394.47 V209.80H395.51 V211.36H395.95 V212.02H397.14 V213.81H398.07 V214.34H398.75 V214.68H399.32 V214.96H400.49 V215.54H401.41 V216.01H402.66 V216.65H403.75 V217.21H405.02 V217.85H405.93 V218.20H406.96 V218.59H407.91 V218.96H408.54 V219.20H409.80 V219.62H410.48 V219.83H411.59 V220.18H412.85 V220.55H413.83 V220.75H414.36 V220.86H415.50 V221.09H416.50 V221.30H417.07 V221.41H417.51 V221.50H418.39 V221.66H418.82 V221.73H420.05 V221.92H420.91 V222.05H421.78 V222.18H422.54 V222.30H423.54 V222.46H424.76 V222.64H425.44 V222.75H426.18 V222.86H427.10 V223.01H427.77 V223.11H428.70 V223.25H429.59 V223.39H430.38 V223.52H431.39 V223.81H432.26 V224.05H432.74 V224.19H434.04 V224.55H434.76 V224.75H435.55 V224.98H436.31 V225.19H437.55 V225.54H438.81 V225.89H439.67 V226.13H440.43 V226.35H440.91 V226.49H442.12 V226.82H442.67 V226.98H443.57 V227.14H444.28 V227.21H444.98 V227.27H445.70 V227.33H446.27 V227.38H446.70 V227.42H447.58 V227.50H448.70 V227.60H449.68 V227.69H450.26 V227.74H451.29 V227.83H451.74 V227.87H452.51 V227.94H453.65 V228.04H454.88 V228.15H455.69 V228.22H456.86 V228.32H457.70 V228.40H458.58 V228.43H459.50 V228.46H460.79 V228.50H461.86 V228.54H462.69 V228.56H463.74 V228.60H464.72 V228.63H465.44 V228.65H466.55 V228.69H467.68 V228.73H468.63 V228.76H469.88 V228.80H470.30 V228.81H471.15 V228.84H472.12 V228.87H472.82 V228.90H473.38 V228.91H474.40 V228.95H475.19 V228.97H475.84 V228.99H476.27 V229.02H477.54 V229.12H478.26 V229.17H478.77 V229.21H479.36 V229.25H479.99 V229.30H481.17 V229.39H481.73 V229.43H482.38 V229.48H482.87 V229.52H483.69 V229.58H484.28 V229.62H484.99 V229.68H486.05 V229.76H487.28 V229.85H488.43 V229.94H488.87 V229.97H489.61 V230.02H490.77 V230.11H491.20 V230.14H491.78 V230.19H492.63 V230.25H493.37 V230.31H494.45 V230.39H495.49 V230.47H496.31 V230.53H496.93 V230.58H497.54 V230.62H498.18 V230.67H498.64 V230.71H499.64 V230.78H500.18 V230.80H500.60 V230.80" fill="none" stroke="#2ea2d8" stroke-width="1.35"/>
<path d="M388.00,201.15 V203.45 M390.13,202.63 V204.93 M392.79,206.21 V208.51 M396.22,211.28 V213.58 M397.51,212.91 V215.21 M400.27,214.29 V216.59 M403.72,216.05 V218.35 M405.58,216.91 V219.21 M407.02,217.47 V219.77 M409.37,218.33 V220.63 M410.74,218.76 V221.06 M412.53,219.33 V221.63 M415.61,219.96 V222.26 M418.33,220.50 V222.80 M421.14,220.94 V223.24 M423.29,221.27 V223.57 M425.44,221.60 V223.90 M426.66,221.79 V224.09 M428.64,222.09 V224.39 M431.43,222.67 V224.97 M432.69,223.02 V225.32 M435.77,223.89 V226.19 M439.16,224.84 V227.14 M441.72,225.56 V227.86 M444.22,226.05 V228.35 M446.59,226.26 V228.56 M450.07,226.57 V228.87 M453.54,226.88 V229.18 M455.74,227.08 V229.38 M457.93,227.26 V229.56 M461.25,227.37 V229.67 M463.52,227.44 V229.74 M465.01,227.49 V229.79 M467.41,227.57 V229.87 M470.63,227.67 V229.97 M473.08,227.75 V230.05 M475.02,227.82 V230.12 M477.83,227.99 V230.29 M480.32,228.18 V230.48 M482.08,228.31 V230.61 M484.78,228.51 V230.81 M487.56,228.72 V231.02 M490.86,228.97 V231.27 M493.78,229.19 V231.49 M495.62,229.33 V231.63 M497.88,229.50 V231.80" stroke="#2ea2d8" stroke-width="0.6" fill="none"/>
<path d="M380.00,202.20H381.23 V202.24H382.49 V202.28H383.69 V202.33H384.16 V202.34H385.10 V202.38H385.88 V202.55H386.76 V203.26H387.27 V203.68H387.85 V204.15H388.65 V204.80H389.24 V205.29H390.05 V206.25H390.48 V206.83H390.95 V207.48H391.99 V208.89H392.77 V209.95H393.63 V211.18H394.69 V212.91H395.42 V214.09H395.87 V214.83H396.97 V216.63H397.90 V217.85H398.90 V219.05H399.86 V220.21H401.13 V221.72H401.86 V222.37H402.94 V223.34H403.67 V224.00H404.59 V224.82H405.58 V225.36H406.26 V225.62H406.74 V225.81H407.57 V226.13H408.61 V226.53H409.54 V226.95H410.35 V227.33H411.33 V227.80H411.89 V228.06H412.45 V228.33H413.14 V228.61H414.28 V229.05H414.85 V229.28H415.35 V229.47H415.84 V229.66H416.28 V229.83H416.93 V230.08H417.84 V230.44H418.98 V230.77H419.68 V230.97H420.41 V231.17H421.07 V231.36H421.74 V231.55H422.84 V231.85H423.74 V232.10H424.37 V232.28H424.87 V232.42H425.97 V232.73H427.01 V232.92H428.16 V232.98H428.77 V233.01H429.66 V233.05H430.89 V233.11H431.82 V233.16H433.07 V233.22H433.62 V233.25H434.90 V233.31H435.35 V233.34H436.12 V233.38H436.55 V233.40H437.67 V233.45H438.69 V233.50H439.97 V233.57H441.09 V233.62H442.35 V233.69H443.23 V233.73H444.52 V233.80H445.60 V233.85H446.31 V233.89H447.58 V233.95H448.32 V233.99H448.90 V234.02H449.37 V234.05H450.18 V234.11H450.76 V234.15H452.00 V234.24H453.26 V234.33H453.85 V234.38H454.35 V234.41H455.22 V234.47H455.77 V234.51H456.66 V234.58H457.79 V234.66H458.42 V234.70H459.20 V234.76H460.41 V234.84H461.21 V234.90H461.92 V234.95H463.12 V235.04H464.26 V235.12H465.46 V235.20H466.48 V235.28H467.25 V235.33H468.28 V235.40H469.42 V235.47H470.40 V235.54H471.01 V235.58H471.68 V235.62H472.45 V235.67H473.54 V235.74H474.44 V235.80H475.34 V235.86H476.48 V235.93H476.98 V235.97H477.95 V236.03H478.65 V236.08H479.55 V236.14H480.70 V236.21H481.33 V236.25H482.58 V236.33H483.05 V236.37H483.96 V236.43H484.85 V236.48H485.46 V236.55H486.36 V236.66H487.19 V236.77H487.99 V236.87H489.04 V237.01H489.44 V237.06H490.18 V237.15H491.29 V237.29H491.82 V237.36H493.00 V237.51H493.58 V237.59H494.59 V237.72H495.15 V237.79H495.95 V237.89H496.73 V237.99H497.21 V238.05H498.24 V238.19H499.07 V238.29H500.09 V238.40H500.60 V238.40" fill="none" stroke="#a8123a" stroke-width="1.35"/>
<path d="M388.00,203.13 V205.43 M389.36,204.24 V206.54 M391.14,206.58 V208.88 M392.66,208.65 V210.95 M393.99,210.61 V212.91 M397.04,215.58 V217.88 M399.56,218.71 V221.01 M401.69,221.06 V223.36 M403.03,222.27 V224.57 M406.08,224.40 V226.70 M407.71,225.03 V227.33 M409.23,225.65 V227.95 M411.31,226.64 V228.94 M412.88,227.36 V229.66 M415.01,228.19 V230.49 M417.30,229.08 V231.38 M420.74,230.11 V232.41 M422.88,230.71 V233.01 M425.55,231.46 V233.76 M427.09,231.77 V234.07 M428.94,231.87 V234.17 M430.97,231.97 V234.27 M434.40,232.14 V234.44 M436.04,232.22 V234.52 M437.69,232.30 V234.60 M439.72,232.41 V234.71 M442.12,232.53 V234.83 M444.63,232.65 V234.95 M446.21,232.73 V235.03 M448.96,232.88 V235.18 M450.96,233.02 V235.32 M453.54,233.20 V235.50 M455.71,233.36 V235.66 M457.57,233.49 V235.79 M459.15,233.60 V235.90 M460.60,233.71 V236.01 M463.45,233.91 V236.21 M465.29,234.04 V236.34 M467.95,234.23 V236.53 M469.69,234.34 V236.64 M472.82,234.54 V236.84 M475.76,234.74 V237.04 M477.05,234.82 V237.12 M480.08,235.02 V237.32 M482.32,235.17 V237.47 M485.69,235.43 V237.73 M488.60,235.80 V238.10 M490.26,236.01 V238.31 M493.51,236.43 V238.73 M496.72,236.84 V239.14" stroke="#a8123a" stroke-width="0.6" fill="none"/>
<text x="382.10" y="310.5" font-size="6.3" fill="#222" textLength="25" lengthAdjust="spacingAndGlyphs"><tspan font-style="italic">P</tspan> &lt; .0001</text>
<line x1="455.60" y1="299.80" x2="464.80" y2="299.80" stroke="#35a043" stroke-width="1.1" opacity="0.75"/>
<line x1="460.20" y1="298.60" x2="460.20" y2="301.00" stroke="#35a043" stroke-width="0.6" opacity="0.75"/>
<text x="467.50" y="301.90" font-size="6.0" text-anchor="start" fill="#222" font-weight="normal"  style="">Low Risk</text>
<line x1="455.60" y1="306.95" x2="464.80" y2="306.95" stroke="#2ea2d8" stroke-width="1.1" opacity="0.75"/>
<line x1="460.20" y1="305.75" x2="460.20" y2="308.15" stroke="#2ea2d8" stroke-width="0.6" opacity="0.75"/>
<text x="467.50" y="309.05" font-size="6.0" text-anchor="start" fill="#222" font-weight="normal"  style="">Average Risk</text>
<line x1="455.60" y1="314.10" x2="464.80" y2="314.10" stroke="#a8123a" stroke-width="1.1" opacity="0.75"/>
<line x1="460.20" y1="312.90" x2="460.20" y2="315.30" stroke="#a8123a" stroke-width="0.6" opacity="0.75"/>
<text x="467.50" y="316.20" font-size="6.0" text-anchor="start" fill="#222" font-weight="normal"  style="">High Risk</text>
<text x="60.30" y="380.00" font-size="11.4" text-anchor="start" fill="#111" font-weight="bold"  style="">B</text>
<rect x="236.25" y="465.94" width="5.12" height="23.96" fill="#c9c9d1" stroke="#5a5a66" stroke-width="0.6"/>
<rect x="241.38" y="410.34" width="5.12" height="79.56" fill="#c9c9d1" stroke="#5a5a66" stroke-width="0.6"/>
<rect x="246.50" y="409.03" width="5.12" height="80.87" fill="#c9c9d1" stroke="#5a5a66" stroke-width="0.6"/>
<rect x="251.62" y="445.16" width="5.12" height="44.74" fill="#c9c9d1" stroke="#5a5a66" stroke-width="0.6"/>
<rect x="256.75" y="468.00" width="5.12" height="21.90" fill="#c9c9d1" stroke="#5a5a66" stroke-width="0.6"/>
<rect x="261.88" y="481.29" width="5.12" height="8.61" fill="#c9c9d1" stroke="#5a5a66" stroke-width="0.6"/>
<rect x="267.00" y="485.22" width="5.12" height="4.68" fill="#c9c9d1" stroke="#5a5a66" stroke-width="0.6"/>
<rect x="272.12" y="487.09" width="5.12" height="2.81" fill="#c9c9d1" stroke="#5a5a66" stroke-width="0.6"/>
<rect x="277.25" y="488.96" width="5.12" height="0.94" fill="#c9c9d1" stroke="#5a5a66" stroke-width="0.6"/>
<rect x="282.38" y="489.34" width="5.12" height="0.56" fill="#c9c9d1" stroke="#5a5a66" stroke-width="0.6"/>
<rect x="287.50" y="489.53" width="5.12" height="0.37" fill="#c9c9d1" stroke="#5a5a66" stroke-width="0.6"/>
<line x1="221.70" y1="412.60" x2="221.70" y2="493.20" stroke="#111" stroke-width="1.1" />
<line x1="221.20" y1="492.70" x2="331.00" y2="492.70" stroke="#111" stroke-width="1.1" />
<line x1="218.60" y1="489.90" x2="221.70" y2="489.90" stroke="#111" stroke-width="0.9" />
<text x="216.20" y="492.10" font-size="6.3" text-anchor="end" fill="#2a2a2a" font-weight="normal"  style="">0</text>
<line x1="218.60" y1="471.18" x2="221.70" y2="471.18" stroke="#111" stroke-width="0.9" />
<text x="216.20" y="473.38" font-size="6.3" text-anchor="end" fill="#2a2a2a" font-weight="normal"  style="">100</text>
<line x1="218.60" y1="452.46" x2="221.70" y2="452.46" stroke="#111" stroke-width="0.9" />
<text x="216.20" y="454.66" font-size="6.3" text-anchor="end" fill="#2a2a2a" font-weight="normal"  style="">200</text>
<line x1="218.60" y1="433.74" x2="221.70" y2="433.74" stroke="#111" stroke-width="0.9" />
<text x="216.20" y="435.94" font-size="6.3" text-anchor="end" fill="#2a2a2a" font-weight="normal"  style="">300</text>
<line x1="218.60" y1="415.02" x2="221.70" y2="415.02" stroke="#111" stroke-width="0.9" />
<text x="216.20" y="417.22" font-size="6.3" text-anchor="end" fill="#2a2a2a" font-weight="normal"  style="">400</text>
<line x1="226.00" y1="492.70" x2="226.00" y2="496.00" stroke="#111" stroke-width="0.9" />
<text x="226.00" y="505.00" font-size="6.4" text-anchor="middle" fill="#2a2a2a" font-weight="normal"  style="">0.0</text>
<line x1="246.50" y1="492.70" x2="246.50" y2="496.00" stroke="#111" stroke-width="0.9" />
<text x="246.50" y="505.00" font-size="6.4" text-anchor="middle" fill="#2a2a2a" font-weight="normal"  style="">0.2</text>
<line x1="267.00" y1="492.70" x2="267.00" y2="496.00" stroke="#111" stroke-width="0.9" />
<text x="267.00" y="505.00" font-size="6.4" text-anchor="middle" fill="#2a2a2a" font-weight="normal"  style="">0.4</text>
<line x1="287.50" y1="492.70" x2="287.50" y2="496.00" stroke="#111" stroke-width="0.9" />
<text x="287.50" y="505.00" font-size="6.4" text-anchor="middle" fill="#2a2a2a" font-weight="normal"  style="">0.6</text>
<line x1="308.00" y1="492.70" x2="308.00" y2="496.00" stroke="#111" stroke-width="0.9" />
<text x="308.00" y="505.00" font-size="6.4" text-anchor="middle" fill="#2a2a2a" font-weight="normal"  style="">0.8</text>
<line x1="328.50" y1="492.70" x2="328.50" y2="496.00" stroke="#111" stroke-width="0.9" />
<text x="328.50" y="505.00" font-size="6.4" text-anchor="middle" fill="#2a2a2a" font-weight="normal"  style="">1.0</text>
<text x="276.75" y="515.50" font-size="8.2" text-anchor="middle" fill="#222" font-weight="normal" textLength="81.1" lengthAdjust="spacingAndGlyphs"  style="stroke:#222;stroke-width:0.22">Predicted probability of 5y event</text>
<text x="0" y="0" font-size="7.3" text-anchor="middle" fill="#222" textLength="26" lengthAdjust="spacingAndGlyphs" transform="translate(197.20,452.50) rotate(-90)" dominant-baseline="central" style="stroke:#222;stroke-width:0.2">Frequency</text>
<rect x="76.90" y="382.90" width="167.00" height="7.60" fill="#e98f14"/>
<text x="79.50" y="388.70" font-size="6.1" text-anchor="start" fill="#fff" font-weight="normal" textLength="155.1" lengthAdjust="spacingAndGlyphs"  style="">Approach 1: Predicted PFS5 &gt;82%, 24% of the population</text>
<line x1="243.40" y1="390.50" x2="243.40" y2="489.90" stroke="#e98f14" stroke-width="1.0" />
<rect x="73.80" y="396.40" width="163.80" height="8.00" fill="#e98f14"/>
<text x="76.60" y="402.60" font-size="6.1" text-anchor="start" fill="#fff" font-weight="normal" textLength="155.1" lengthAdjust="spacingAndGlyphs"  style="">Approach 2: Predicted PFS5 &gt;90%, &lt;1% of the population</text>
<line x1="237.00" y1="404.40" x2="237.00" y2="489.90" stroke="#e98f14" stroke-width="1.0" />
<rect x="254.40" y="399.50" width="163.10" height="8.10" fill="#5a2374"/>
<text x="257.00" y="405.80" font-size="6.1" text-anchor="start" fill="#fff" font-weight="normal" textLength="155.7" lengthAdjust="spacingAndGlyphs"  style="">Approach 1: Predicted PFS5 &lt;72%, 19% of the population</text>
<line x1="254.90" y1="407.60" x2="254.90" y2="489.90" stroke="#5a2374" stroke-width="1.0" />
<rect x="257.30" y="413.40" width="163.70" height="8.60" fill="#5a2374"/>
<text x="260.00" y="420.20" font-size="6.1" text-anchor="start" fill="#fff" font-weight="normal" textLength="156.1" lengthAdjust="spacingAndGlyphs"  style="">Approach 2: Predicted PFS5 &lt;70%, 15% of the population</text>
<line x1="257.80" y1="422.00" x2="257.80" y2="489.90" stroke="#5a2374" stroke-width="1.0" />
</svg>
</body></html>
